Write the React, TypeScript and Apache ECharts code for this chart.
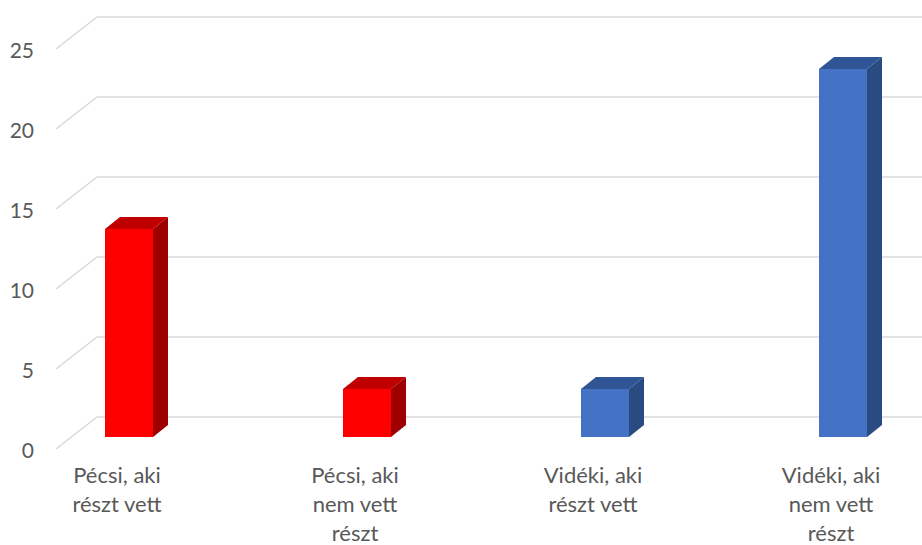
import React, { useEffect, useRef } from "react";
import * as echarts from "echarts";

const categories = ["Pécsi, aki\nrészt vett", "Pécsi, aki\nnem vett\nrészt", "Vidéki, aki\nrészt vett", "Vidéki, aki\nnem vett\nrészt"];
const values = [13, 3, 3, 23];
const frontColors = ["#FF0000", "#FF0000", "#4472C4", "#4472C4"];
const topColors = ["#C00000", "#C00000", "#2F5597", "#2F5597"];
const sideColors = ["#9E0000", "#9E0000", "#2A4A82", "#2A4A82"];
const yTicks = [0, 5, 10, 15, 20, 25];

const DX = 15; // bar depth x
const DY = 12; // bar depth y
const WALL_DX = 41;
const WALL_DY = 32;
const BAR_W = 48;
const BAR_SHIFT = 12;

export default function App() {
  const ref = useRef<HTMLDivElement>(null);
  useEffect(() => {
    if (!ref.current) return;
    const chart = echarts.init(ref.current, null, { renderer: "svg" });
    const font = "Lato, 'Open Sans', sans-serif";
    chart.setOption({
      animation: false,
      grid: [
        { left: 97, right: 0, top: 17, height: 400, outerBoundsMode: "none", containLabel: false },
        { left: 56, right: 0, top: 49, height: 400, outerBoundsMode: "none", containLabel: false },
        { left: -2, width: 952, top: 37, height: 400, outerBoundsMode: "none", containLabel: false },
      ],
      xAxis: [
        { gridIndex: 0, type: "value", min: 0, max: 1, show: false },
        { gridIndex: 1, type: "value", min: 0, max: 1, show: false },
        {
          gridIndex: 2,
          type: "category",
          data: categories,
          axisLine: { show: false },
          axisTick: { show: false },
          axisLabel: {
            color: "#595959",
            fontSize: 22,
            fontFamily: font,
            lineHeight: 29,
            margin: 23,
            interval: 0,
          },
        },
      ],
      yAxis: [
        {
          gridIndex: 0,
          type: "value",
          min: 0,
          max: 25,
          interval: 5,
          axisLabel: { show: false },
          axisLine: { show: false },
          axisTick: { show: false },
          splitLine: { lineStyle: { color: "#D9D9D9", width: 1.5 } },
        },
        {
          gridIndex: 1,
          type: "value",
          min: 0,
          max: 25,
          interval: 5,
          axisLine: { show: false },
          axisTick: { show: false },
          splitLine: { show: false },
          axisLabel: { color: "#595959", fontSize: 21, fontFamily: font, margin: 22 },
        },
        { gridIndex: 2, type: "value", min: 0, max: 25, show: false, splitLine: { show: false } },
      ],
      series: [
        {
          type: "custom",
          xAxisIndex: 0,
          yAxisIndex: 0,
          data: yTicks.map((v) => [0, v]),
          encode: { x: 0, y: 1 },
          silent: true,
          renderItem: (params: any, api: any) => {
            const p = api.coord([0, api.value(1)]);
            return {
              type: "line",
              shape: { x1: p[0], y1: p[1], x2: p[0] - WALL_DX, y2: p[1] + WALL_DY },
              style: { stroke: "#D9D9D9", lineWidth: 1.5 },
            };
          },
        },
        {
          type: "custom",
          xAxisIndex: 2,
          yAxisIndex: 2,
          data: values.map((v, i) => [i, v]),
          encode: { x: 0, y: 1 },
          renderItem: (params: any, api: any) => {
            const idx = params.dataIndex;
            const top = api.coord([api.value(0), api.value(1)]);
            const bot = api.coord([api.value(0), 0]);
            const cx = top[0] + BAR_SHIFT;
            const x0 = cx - BAR_W / 2;
            const x1 = cx + BAR_W / 2;
            const yt = top[1];
            const yb = bot[1];
            return {
              type: "group",
              children: [
                {
                  type: "polygon",
                  shape: { points: [[x1, yt], [x1 + DX, yt - DY], [x1 + DX, yb - DY], [x1, yb]] },
                  style: { fill: sideColors[idx] },
                },
                {
                  type: "polygon",
                  shape: { points: [[x0, yt], [x1, yt], [x1 + DX, yt - DY], [x0 + DX, yt - DY]] },
                  style: { fill: topColors[idx] },
                },
                {
                  type: "rect",
                  shape: { x: x0, y: yt, width: BAR_W, height: yb - yt },
                  style: { fill: frontColors[idx] },
                },
              ],
            };
          },
        },
      ],
    });
    return () => chart.dispose();
  }, []);
  return <div ref={ref} style={{ position: "fixed", left: 0, top: 0, width: 922, height: 545, background: "#fff" }} />;
}
